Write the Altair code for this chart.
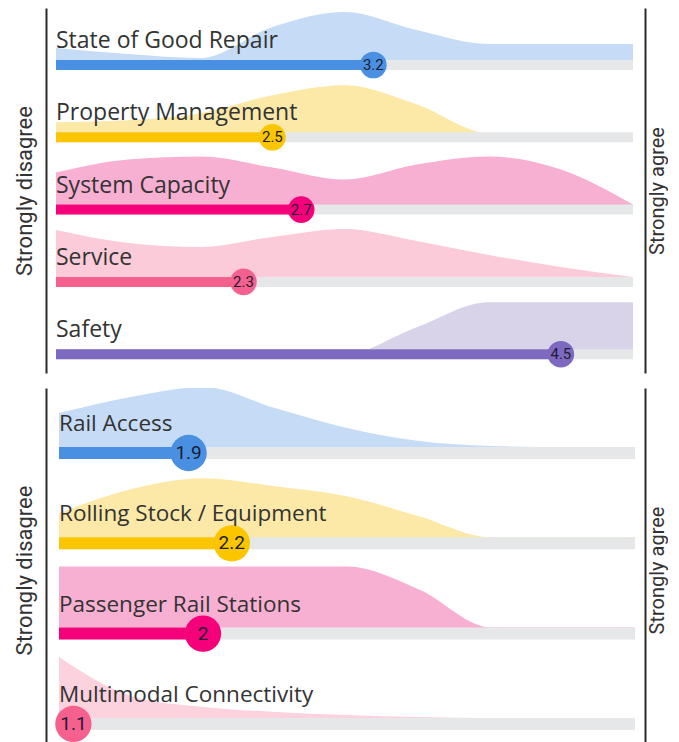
import altair as alt
import pandas as pd

SCALE_MIN, SCALE_MAX = 1, 5

# ---- top panel ----
top_categories = ["State of Good Repair", "Property Management", "System Capacity", "Service", "Safety"]
top_scores = [3.2, 2.5, 2.7, 2.3, 4.5]
top_bar_colors = ["#4A90E2", "#FBC500", "#F5007A", "#F6608F", "#7D69BF"]
top_area_colors = ["#C6DCF6", "#FCE9A8", "#F8B0D2", "#FCCBD9", "#D9D3EA"]

density_x = [1, 1.5, 2, 2.5, 3, 3.5, 4, 4.5, 5]
top_density = {
    "State of Good Repair": [17, 11, 7, 38, 53, 35, 21, 21, 21],
    "Property Management": [15, 17, 24, 42, 52, 33, 4, 3, 3],
    "System Capacity": [37, 50, 53, 42, 30, 45, 53, 40, 5],
    "Service": [52, 39, 35, 45, 53, 41, 27, 15, 5],
    "Safety": [0, 0, 0, 0, 0, 27, 52, 52, 52],
}

# ---- bottom panel ----
bottom_categories = ["Rail Access", "Rolling Stock / Equipment", "Passenger Rail Stations", "Multimodal Connectivity"]
bottom_scores = [1.9, 2.2, 2, 1.1]
bottom_bar_colors = ["#4A90E2", "#FBC500", "#F5007A", "#F6608F"]
bottom_area_colors = ["#C6DCF6", "#FCE9A8", "#F8B0D2", "#FCD2DE"]
bottom_density = {
    "Rail Access": [40, 56, 66, 45, 25, 12, 7, 6, 6],
    "Rolling Stock / Equipment": [30, 54, 65, 57, 47, 27, 6, 6, 6],
    "Passenger Rail Stations": [67, 67, 67, 67, 67, 44, 6, 6, 6],
    "Multimodal Connectivity": [67, 28, 17, 12, 9, 7, 6, 6, 6],
}

TRACK = "#E5E7E8"
TEXT = "#333333"
FONT = "Open Sans"
TITLE_FONT = "Roboto"


def panel(categories, scores, bar_colors, area_colors, density, unit,
          width, height, xdom, ydom, bar_w, circle_size, value_size, label_dy, label_size):
    n = len(categories)
    dens_rows = []
    for k, cat in enumerate(categories):
        base = n - 1 - k
        for v, d in zip(density_x, density[cat]):
            dens_rows.append({"cat": cat, "v": v, "top": base + d / unit,
                              "base": base, "fill": area_colors[k]})
    dens = pd.DataFrame(dens_rows)
    rows = pd.DataFrame({
        "cat": categories,
        "score": scores,
        "pos": [n - 1 - k for k in range(n)],
        "color": bar_colors,
        "lo": [SCALE_MIN] * n,
        "hi": [SCALE_MAX] * n,
        "label": [f"{s:g}" for s in scores],
    })
    xs = alt.Scale(domain=xdom, nice=False, zero=False)
    ys = alt.Scale(domain=ydom, nice=False, zero=False)
    axis_common = dict(domain=True, domainColor="#2b2b2b", domainWidth=2,
                       ticks=False, labels=False, grid=False,
                       titleFont=TITLE_FONT, titleFontWeight="normal",
                       titleColor=TEXT, titleAngle=270)

    area = alt.Chart(dens).mark_area(interpolate="monotone", clip=True).encode(
        x=alt.X("v:Q", scale=xs, axis=None),
        y=alt.Y("top:Q", scale=ys, stack=None,
                axis=alt.Axis(orient="left", title="Strongly disagree",
                              titlePadding=10, titleFontSize=22, **axis_common)),
        y2="base:Q",
        color=alt.Color("fill:N", scale=None),
        detail="cat:N",
    )
    base = alt.Chart(rows)
    track = base.mark_rule(strokeWidth=bar_w, color=TRACK).encode(
        x=alt.X("lo:Q", scale=xs, axis=None),
        x2="hi:Q",
        y=alt.Y("pos:Q", scale=ys,
                axis=alt.Axis(orient="right", title="Strongly agree",
                              titleBaseline="top", titlePadding=2, titleFontSize=20,
                              **axis_common)),
    )
    bar = base.mark_rule(strokeWidth=bar_w).encode(
        x=alt.X("lo:Q", scale=xs, axis=None),
        x2="score:Q",
        y=alt.Y("pos:Q", scale=ys, axis=None),
        color=alt.Color("color:N", scale=None),
    )
    dot = base.mark_circle(size=circle_size, opacity=1).encode(
        x=alt.X("score:Q", scale=xs, axis=None),
        y=alt.Y("pos:Q", scale=ys, axis=None),
        color=alt.Color("color:N", scale=None),
    )
    val = base.mark_text(fontSize=value_size, font="Roboto", color="#1b1d33").encode(
        x=alt.X("score:Q", scale=xs, axis=None),
        y=alt.Y("pos:Q", scale=ys, axis=None),
        text="label:N",
    )
    lab = base.mark_text(align="left", baseline="alphabetic", dy=label_dy,
                         fontSize=label_size, font=FONT, color=TEXT).encode(
        x=alt.X("lo:Q", scale=xs, axis=None),
        y=alt.Y("pos:Q", scale=ys, axis=None),
        text="cat:N",
    )
    return alt.layer(area, track, bar, dot, val, lab).resolve_axis(y="independent").properties(
        width=width, height=height)


top = panel(top_categories, top_scores, top_bar_colors, top_area_colors, top_density,
            72.3, 599, 365, [0.9307, 5.0832], [-0.260, 4.788], 10, 707, 15, -17, 23)
bottom = panel(bottom_categories, bottom_scores, bottom_bar_colors, bottom_area_colors,
               bottom_density, 90.3, 599, 364, [0.9097, 5.0694], [-0.311, 3.720],
               12, 1320, 19, -22, 22.5)

chart = alt.vconcat(top, bottom, spacing=15).properties(
    padding={"left": 4, "top": 0, "right": 1, "bottom": 0}
).configure_view(strokeWidth=0)

chart.save("out.html", embed_options={"renderer": "svg", "actions": False})
